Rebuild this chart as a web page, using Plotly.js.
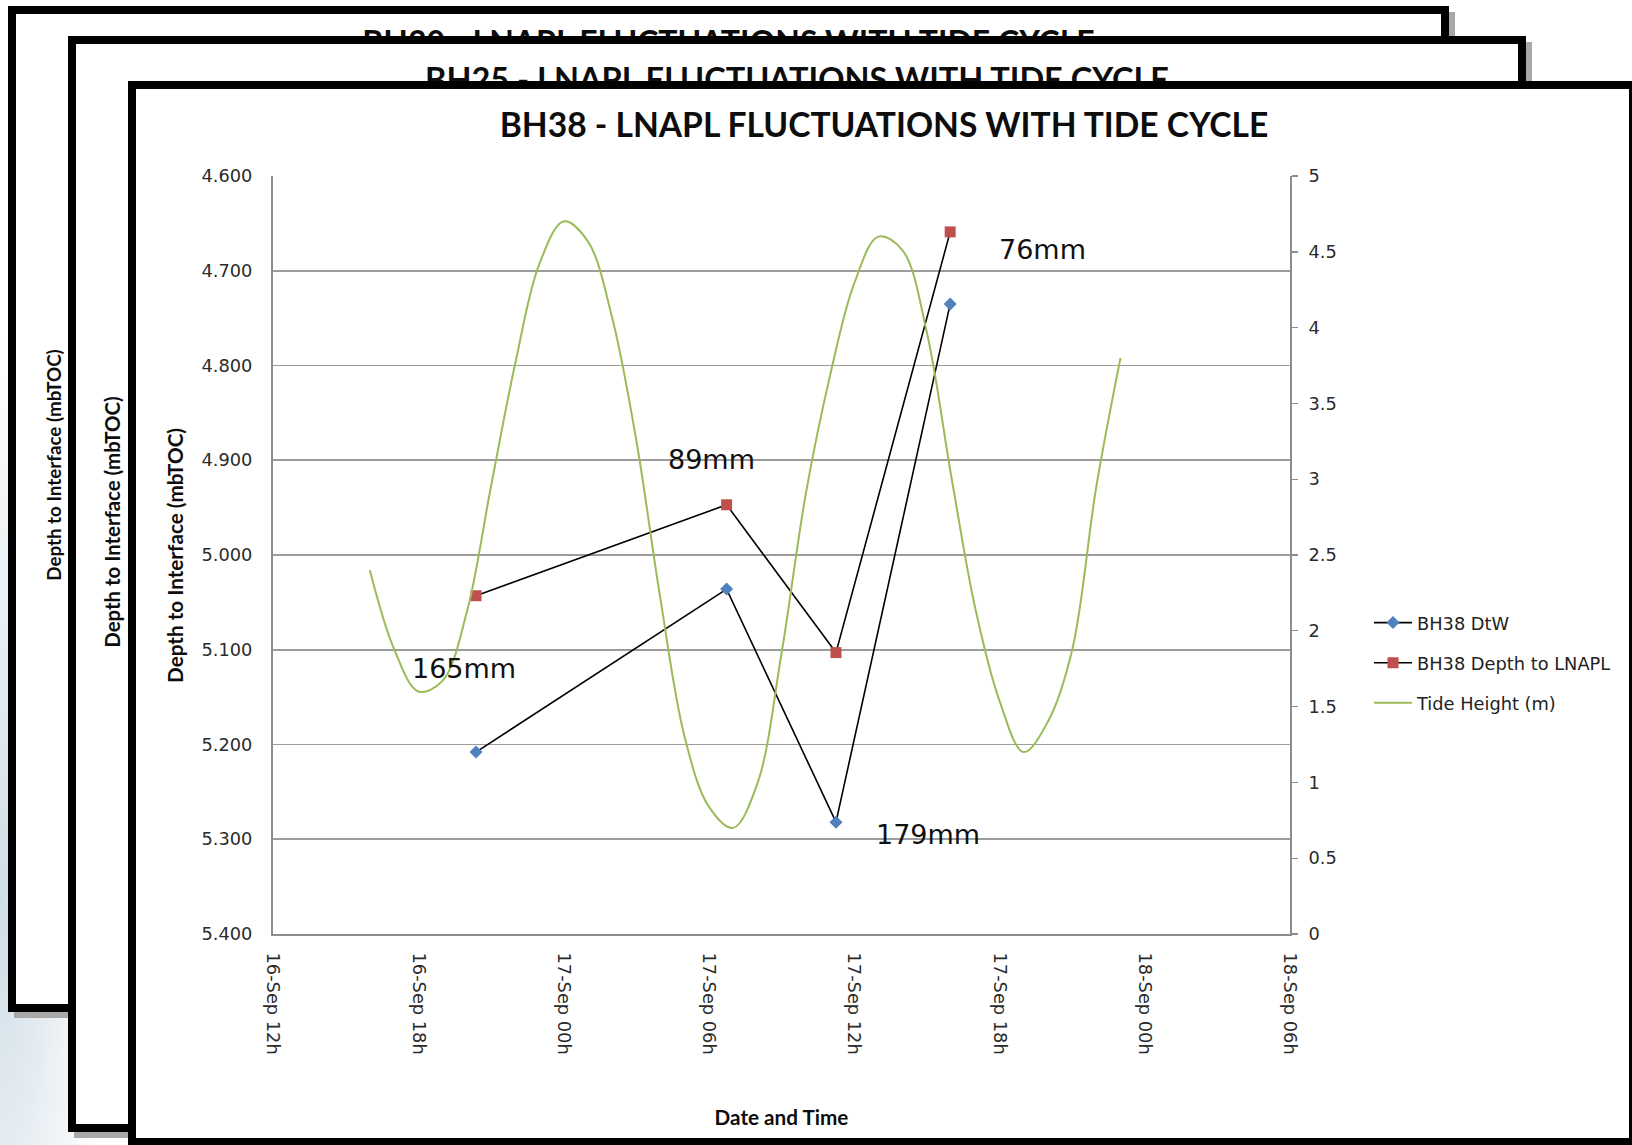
<!DOCTYPE html>
<html>
<head>
<meta charset="utf-8">
<script src="https://cdn.plot.ly/plotly-3.0.1.min.js"></script>
<style>
  html, body { margin: 0; padding: 0; }
  body {
    width: 1632px; height: 1145px; overflow: hidden; position: relative;
    background: radial-gradient(ellipse 110px 560px at 0px 900px, #cfdde7 0%, #e6edf2 45%, #ffffff 100%);
  }
  .card { position: absolute; box-sizing: border-box; border: 8px solid #000; background: #fff; }
  .shadow { box-shadow: 6px 6px 0 #a8a8a8; }
  .ctitle {
    position: absolute; left: 0; right: 0; text-align: center;
    font-family: Lato, sans-serif; font-weight: 700; line-height: 1;
    color: #0d0d0d; white-space: nowrap;
  }
  .ytitle {
    position: absolute; font-family: Lato, sans-serif; font-weight: 700;
    color: #0d0d0d; white-space: nowrap; transform: translate(-50%, -50%) rotate(-90deg);
  }
  #chart { position: absolute; left: 0; top: 0; width: 1632px; height: 1145px; z-index: 4; }
</style>
</head>
<body>
<!-- stacked sheets behind the main chart -->
<div class="card shadow" style="left:8px; top:6px; width:1441px; height:1006px; z-index:1;">
  <div class="ctitle" style="top:12px; font-size:32px;">BH30 - LNAPL FLUCTUATIONS WITH TIDE CYCLE</div>
  <div class="ytitle" style="left:37px; top:451px; font-size:18.8px;">Depth to Interface (mbTOC)</div>
</div>
<div class="card shadow" style="left:68px; top:36px; width:1458px; height:1096px; z-index:2;">
  <div class="ctitle" style="top:18.5px; font-size:32.5px;">BH25 - LNAPL FLUCTUATIONS WITH TIDE CYCLE</div>
  <div class="ytitle" style="left:36px; top:478px; font-size:20.4px;">Depth to Interface (mbTOC)</div>
</div>
<div class="card" style="left:128px; top:81px; width:1509px; height:1065px; z-index:3;"></div>
<div id="chart"></div>

<script>
// Tide height (m), hourly readings
const tideTime = [
  '2013-09-16 16:00', '2013-09-16 17:00', '2013-09-16 18:00', '2013-09-16 19:00',
  '2013-09-16 20:00', '2013-09-16 21:00', '2013-09-16 22:00', '2013-09-16 23:00',
  '2013-09-17 00:00', '2013-09-17 01:00', '2013-09-17 02:00', '2013-09-17 03:00',
  '2013-09-17 04:00', '2013-09-17 05:00', '2013-09-17 06:00', '2013-09-17 07:00',
  '2013-09-17 08:00', '2013-09-17 09:00', '2013-09-17 10:00', '2013-09-17 11:00',
  '2013-09-17 12:00', '2013-09-17 13:00', '2013-09-17 14:00', '2013-09-17 15:00',
  '2013-09-17 16:00', '2013-09-17 17:00', '2013-09-17 18:00', '2013-09-17 19:00',
  '2013-09-17 20:00', '2013-09-17 21:00', '2013-09-17 22:00', '2013-09-17 23:00'
];
const tideHeight = [
  2.40, 1.88, 1.60, 1.67, 2.12, 2.95, 3.76, 4.42,
  4.70, 4.57, 4.07, 3.26, 2.21, 1.30, 0.84, 0.70,
  0.99, 1.85, 2.90, 3.68, 4.29, 4.60, 4.51, 3.97,
  3.03, 2.15, 1.54, 1.20, 1.40, 1.87, 2.95, 3.80
];

// BH38 dip readings (m below top of casing)
const sampleTime = ['2013-09-16 20:23', '2013-09-17 06:44', '2013-09-17 11:15', '2013-09-17 15:58'];
const dtw   = [5.208, 5.036, 5.282, 4.735];
const lnapl = [5.043, 4.947, 5.103, 4.659];

// Thickness label placement: which reading it hangs off, and pixel offsets
const labelAnchor = ['lnapl', 'lnapl', 'dtw', 'lnapl'];
const labelShiftX = [-12, -15, 92, 92];
const labelShiftY = [-73, 45, -12, -18];

const tickFont = { family: 'DejaVu Sans, Verdana, sans-serif', size: 17.8, color: '#2b2b2b' };
const boldFont = { family: 'Lato, sans-serif', size: 20.7, color: '#0d0d0d', weight: 700 };

const traces = [
  {
    x: sampleTime, y: dtw, name: 'BH38 DtW', type: 'scatter', mode: 'lines+markers',
    line: { color: '#000000', width: 1.6 },
    marker: { symbol: 'diamond', size: 10, color: '#4f81bd' },
    legendgroup: 'a'
  },
  {
    x: sampleTime, y: lnapl, name: 'BH38 Depth to LNAPL', type: 'scatter', mode: 'lines+markers',
    line: { color: '#000000', width: 1.6 },
    marker: { symbol: 'square', size: 11, color: '#c0504d' },
    legendgroup: 'b'
  },
  {
    x: tideTime, y: tideHeight, name: 'Tide Height (m)', type: 'scatter', mode: 'lines',
    yaxis: 'y2', line: { color: '#9bbb59', width: 2, shape: 'spline', smoothing: 1 },
    legendgroup: 'c'
  }
];

const annotations = dtw.map((d, i) => ({
  x: sampleTime[i],
  y: labelAnchor[i] === 'dtw' ? d : lnapl[i],
  xref: 'x', yref: 'y',
  text: Math.round((d - lnapl[i]) * 1000) + 'mm',
  showarrow: false,
  xshift: labelShiftX[i], yshift: labelShiftY[i],
  font: { family: 'DejaVu Sans, Verdana, sans-serif', size: 27, color: '#111111' }
}));

// left axis title, set beside the tick labels
annotations.push({
  text: 'Depth to Interface (mbTOC)', textangle: -90,
  xref: 'paper', yref: 'paper', x: -0.0964, y: 0.5,
  xanchor: 'center', yanchor: 'middle', showarrow: false,
  font: boldFont
});

const layout = {
  width: 1632, height: 1145,
  margin: { l: 273, r: 342, t: 176, b: 211 },
  paper_bgcolor: 'rgba(0,0,0,0)', plot_bgcolor: 'rgba(0,0,0,0)',
  title: {
    text: 'BH38 - LNAPL FLUCTUATIONS WITH TIDE CYCLE',
    font: { family: 'Lato, sans-serif', size: 33.6, color: '#0d0d0d', weight: 700 },
    xref: 'paper', x: 0.6008, xanchor: 'center',
    yref: 'container', y: 0.8908, yanchor: 'middle'
  },
  xaxis: {
    type: 'date',
    range: ['2013-09-16 12:00', '2013-09-18 06:00'],
    tick0: '2013-09-16 12:00', dtick: 6 * 3600 * 1000,
    tickformat: '%d-%b %Hh', tickangle: 90,
    tickfont: tickFont, ticks: '', ticklabelstandoff: 13,
    showgrid: false, zeroline: false,
    showline: true, linecolor: '#8c8c8c', linewidth: 2,
    title: { text: 'Date and Time', font: boldFont, standoff: 57 }
  },
  yaxis: {
    range: [5.4, 4.6], dtick: 0.1, tick0: 4.6, tickformat: '.3f',
    tickfont: tickFont, ticks: '', ticklabelstandoff: 15,
    showgrid: true, gridcolor: '#9c9c9c', gridwidth: 1.6,
    zeroline: false, showline: true, linecolor: '#8c8c8c', linewidth: 2
  },
  yaxis2: {
    overlaying: 'y', side: 'right',
    range: [0, 5], dtick: 0.5, tick0: 0,
    tickfont: tickFont, ticks: 'outside', ticklen: 6, tickcolor: '#8c8c8c', tickwidth: 1.4,
    ticklabelstandoff: 7,
    showgrid: false, zeroline: false, showline: true, linecolor: '#8c8c8c', linewidth: 2
  },
  legend: {
    x: 1.0777, xanchor: 'left', y: 0.3575, yanchor: 'middle',
    font: { family: 'DejaVu Sans, Verdana, sans-serif', size: 17.8, color: '#222222' },
    traceorder: 'grouped', tracegroupgap: 14, itemwidth: 38, bgcolor: 'rgba(0,0,0,0)'
  },
  showlegend: true,
  annotations: annotations
};

Plotly.newPlot('chart', traces, layout, { displayModeBar: false, staticPlot: true });
</script>
</body>
</html>
